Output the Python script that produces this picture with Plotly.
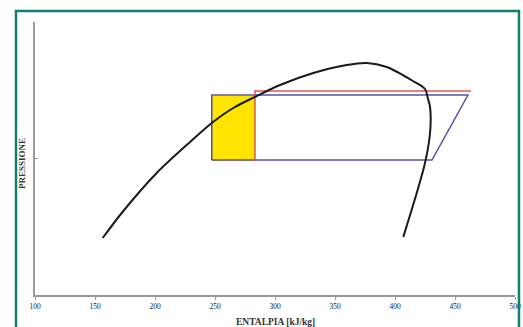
import plotly.graph_objects as go

# Saturation dome (enthalpy kJ/kg, pressure arbitrary units)
dome_h = [156.4, 173.6, 201.4, 229.2, 247.3, 265.2, 284.8, 304.2, 331.9, 359.8,
          376.4, 393.1, 415.0, 425.0, 427.5, 429.2, 429.2, 425.0, 418.1, 406.9]
dome_p = [5.7, 8.4, 12.2, 15.3, 17.2, 18.7, 19.9, 21.0, 22.2, 23.0,
          23.2, 22.8, 21.4, 20.6, 19.6, 18.8, 16.2, 13.2, 10.2, 5.8]

# Refrigeration cycle (blue)
cycle_h = [247.3, 247.3, 460.8, 430.8, 247.3]
cycle_p = [13.5, 20.0, 20.0, 13.5, 13.5]

# Modified cycle (red)
red_h = [283.3, 283.3, 463.3]
red_p = [13.4, 20.4, 20.4]

# Highlighted area (yellow)
box_h = [247.3, 283.3, 283.3, 247.3, 247.3]
box_p = [13.4, 13.4, 19.9, 19.9, 13.4]

x_ticks = [100, 150, 200, 250, 300, 350, 400, 450, 500]
y_ticks = [13.7]

fig = go.Figure()
fig.add_trace(go.Scatter(x=box_h, y=box_p, mode="lines", fill="toself",
                         fillcolor="#ffe400", line=dict(color="#ffe400", width=0.5),
                         hoverinfo="skip"))
fig.add_trace(go.Scatter(x=cycle_h, y=cycle_p, mode="lines",
                         line=dict(color="#5b50a8", width=1.5)))
fig.add_trace(go.Scatter(x=red_h, y=red_p, mode="lines",
                         line=dict(color="#e05a48", width=1.5)))
fig.add_trace(go.Scatter(x=dome_h, y=dome_p, mode="lines", line_shape="spline",
                         line=dict(color="#1a1a1a", width=2, smoothing=0.8)))

serif = "Liberation Serif"
fig.update_layout(
    width=523, height=327,
    margin=dict(l=35, r=8, t=22, b=32, autoexpand=False),
    paper_bgcolor="white", plot_bgcolor="white",
    showlegend=False,
    font=dict(family=serif, size=7, color="#222"),
    xaxis=dict(range=[100, 500], tickvals=x_ticks, showgrid=False, zeroline=False,
               showline=True, linecolor="#999", linewidth=1.5, automargin=False,
               ticks="outside", ticklen=3, tickcolor="#999",
               tickfont=dict(family=serif, size=7.5, color="#222")),
    yaxis=dict(range=[0, 27.3], tickvals=y_ticks, ticktext=[""], showgrid=False,
               zeroline=False, showline=True, linecolor="#999", linewidth=1.5,
               automargin=False, ticks="inside", ticklen=3, tickcolor="#999"),
    annotations=[
        dict(text="<b>ENTALPIA [kJ/kg]</b>", xref="paper", yref="paper",
             x=0.5, y=-0.099, showarrow=False, xanchor="center", yanchor="middle",
             font=dict(family=serif, size=9.5, color="#333")),
        dict(text="<b>PRESSIONE</b>", xref="paper", yref="paper", textangle=-90,
             x=-0.027, y=0.48, showarrow=False, xanchor="center", yanchor="middle",
             font=dict(family=serif, size=9, color="#333")),
    ],
    shapes=[dict(type="rect", xref="paper", yref="paper",
                 x0=-0.0396, x1=1.0083, y0=-0.2, y1=1.0403,
                 line=dict(color="#0e7f70", width=2.5), layer="above")],
)

fig.write_html("out.html", config={"displayModeBar": False},
               post_script="document.body.style.margin='0';")
